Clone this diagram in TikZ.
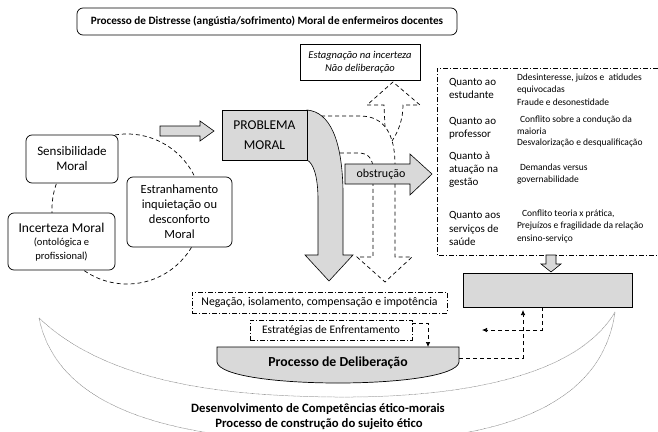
\documentclass[tikz,border=0pt]{standalone}
\usepackage{fontspec}
\setmainfont{Carlito}
\usetikzlibrary{arrows.meta}
\definecolor{boxgray}{gray}{0.85}
\newcommand{\fs}[2]{\fontsize{#1}{#2}\selectfont}
\tikzset{
  x=1pt, y=-1pt,
  every node/.style={inner sep=0pt, outer sep=0pt},
  roundbox/.style={draw, rounded corners=6pt, line width=0.7pt, fill=white, align=center},
  graybox/.style={draw, line width=0.7pt, fill=boxgray, align=center},
  blockarrow/.style={draw, line width=0.6pt, fill=boxgray},
  dashdotbox/.style={draw, dash pattern=on 5pt off 2pt on 1pt off 2pt, line width=0.6pt, align=center},
  dsh/.style={dash pattern=on 4pt off 3pt, line width=0.7pt},
  dotcurve/.style={draw=black!55, line width=0.5pt, dash pattern=on 0.6pt off 0.6pt},
  tip/.style={-{Latex[length=5pt,width=4.5pt]}},
  lefttxt/.style={anchor=west, align=left},
  colA/.style={lefttxt, font=\fs{11}{13}},
  colB/.style={lefttxt, font=\fs{9.5}{12.2}},
}
\begin{document}
\begin{tikzpicture}
\useasboundingbox (0,0) rectangle (658,431);
\begin{scope}
\clip (0,0) rectangle (658,431);
% long dotted arcs along the bottom
\draw[dotcurve] (39,318) .. controls (110,385) and (230,396) .. (335,397)
                         .. controls (450,398) and (575,380) .. (615,312);
\draw[dotcurve] (39,318) .. controls (60,420) and (200,440) .. (330,442)
                         .. controls (470,444) and (600,420) .. (615,312);
\end{scope}

% title
\node[roundbox, minimum width=380pt, minimum height=27pt, font=\fs{11.2}{13}\bfseries] (title) at (267,21.5)
  {Processo de Distresse (angústia/sofrimento) Moral de enfermeiros docentes};

% dashed cycle round the three starting states
\draw[dsh] (127,209) circle[radius=75pt];
\node[roundbox, minimum width=92pt, minimum height=48pt, font=\fs{13}{15}] (sens) at (72,159)
  {Sensibilidade\\Moral};
\node[roundbox, minimum width=105pt, minimum height=70pt, font=\fs{12.5}{15}] (estr) at (179.5,212)
  {Estranhamento\\inquietação ou\\desconforto\\Moral};
\node[roundbox, minimum width=107pt, minimum height=57pt] (inc) at (61.5,241.5) {};
\node[font=\fs{13.5}{15}] (inct) at (61.5,228) {Incerteza Moral};
\node[font=\fs{10.5}{14}, align=center] (incs) at (61.5,250) {(ontológica e\\profissional)};

% arrow into the moral problem
\draw[blockarrow] (160,126) -- (200,126) -- (200,121) -- (214,131) -- (200,141) -- (200,136) -- (160,136) -- cycle;

% dashed branches leaving the problem
\coordinate (b1) at (321,116);
\coordinate (b2) at (339,153);
\draw[dsh] (b1) -- (360,116) .. controls (385,116) and (395,135) .. (395,165) -- (395,257)
  -- (412,257) -- (385,282) -- (357,257) -- (373,257) -- (373,170)
  .. controls (373,158) and (368,153) .. (358,153) -- (b2);
\draw[dsh] (385,127) -- (384,105) -- (367,105) -- (393,82) -- (420,105) -- (403,105)
  .. controls (403,120) and (398,132) .. (392,141);

% big curved arrow out of the problem box
\draw[blockarrow] (307,110) .. controls (330,112) and (342,140) .. (343,190) -- (343,255)
  -- (353,255) -- (329,281) -- (305,255) -- (318,255) -- (318,200)
  .. controls (318,175) and (313,163) .. (307,160) -- cycle;
\node[graybox, minimum width=85pt, minimum height=50pt, font=\fs{13.5}{20}] (prob) at (264.5,135)
  {PROBLEMA\\MORAL};

% obstruction arrow
\draw[blockarrow] (345,164) -- (410,164) -- (410,154) -- (432,174) -- (410,195) -- (410,184) -- (345,184) -- cycle;
\node[font=\fs{12}{14}] (obs) at (381,174) {obstrução};

% stagnation box
\node[draw, line width=0.6pt, fill=white, minimum width=120pt, minimum height=36pt, align=center,
      font=\fs{10.5}{13}\itshape] (stag) at (360,62)
  {Estagnação na incerteza\\Não deliberação};

% obstacles panel
\draw[dash pattern=on 5pt off 2pt on 1pt off 2pt, line width=0.6pt]
  (658,68) -- (437,68) -- (437,255) -- (658,255);
\node[colA] (q1) at (449,88.5) {Quanto ao\\estudante};
\node[colA] (q2) at (449,128.5) {Quanto ao\\professor};
\node[colA] (q3) at (449,170) {Quanto à\\atuação na\\gestão};
\node[colA, font=\fs{11}{13.5}] (q4) at (449,228.5) {Quanto aos\\serviços de\\saúde};
\node[colB, font=\fs{9.5}{12.5}] (r1) at (517,89.5) {Ddesinteresse, juízos e \ atidudes\\equivocadas\\Fraude e desonestidade};
\node[colB, font=\fs{9.5}{11.7}] (r2) at (517,131.5) {\hspace{3pt}Conflito sobre a condução da\\maioria\\Desvalorização e desqualificação};
\node[colB] (r3) at (517,174) {\hspace{3pt}Demandas versus\\governabilidade};
\node[colB] (r4) at (517,226.5) {\hspace{5pt}Conflito teoria x prática,\\Prejuízos e fragilidade da relação\\ensino-serviço};

% arrow down to the grey box
\draw[blockarrow] (546,255) -- (556,255) -- (556,264) -- (561,264) -- (551,272) -- (541,264) -- (546,264) -- cycle;
\node[graybox, minimum width=169pt, minimum height=34pt] (gray) at (547.5,290) {};

% coping boxes
\node[dashdotbox, minimum width=255pt, minimum height=21pt, fill=white, font=\fs{11.8}{13}] (neg) at (319.5,302.5)
  {Negação, isolamento, compensação e impotência};
\node[dashdotbox, minimum width=162pt, minimum height=20pt, fill=white, font=\fs{11.5}{13}] (estrat) at (331,330)
  {Estratégias de Enfrentamento};

% deliberation
\draw[line width=0.7pt, fill=boxgray] (217,347) -- (459,347) -- (459,362)
  .. controls (455,390) and (221,390) .. (217,362) -- cycle;
\node[font=\fs{13.8}{15}\bfseries] (delibtxt) at (338,363) {Processo de Deliberação};

% dashed feedback connectors
\coordinate (e1) at (412,323);
\coordinate (d1) at (428,347);
\draw[dsh, tip] (e1) -| (d1);
\coordinate (g1) at (542,307);
\coordinate (g2) at (482,330);
\draw[dsh, tip] (g1) |- (g2);
\coordinate (d2) at (459,358);
\coordinate (g3) at (523,310);
\draw[dsh, tip] (d2) -| (g3);

% closing lines
\node[anchor=base, font=\fs{12.7}{14}\bfseries] (dev) at (318,412) {Desenvolvimento de Competências ético-morais};
\node[anchor=base, font=\fs{12.7}{14}\bfseries] (subj) at (319,427) {Processo de construção do sujeito ético};
\end{tikzpicture}
\end{document}
